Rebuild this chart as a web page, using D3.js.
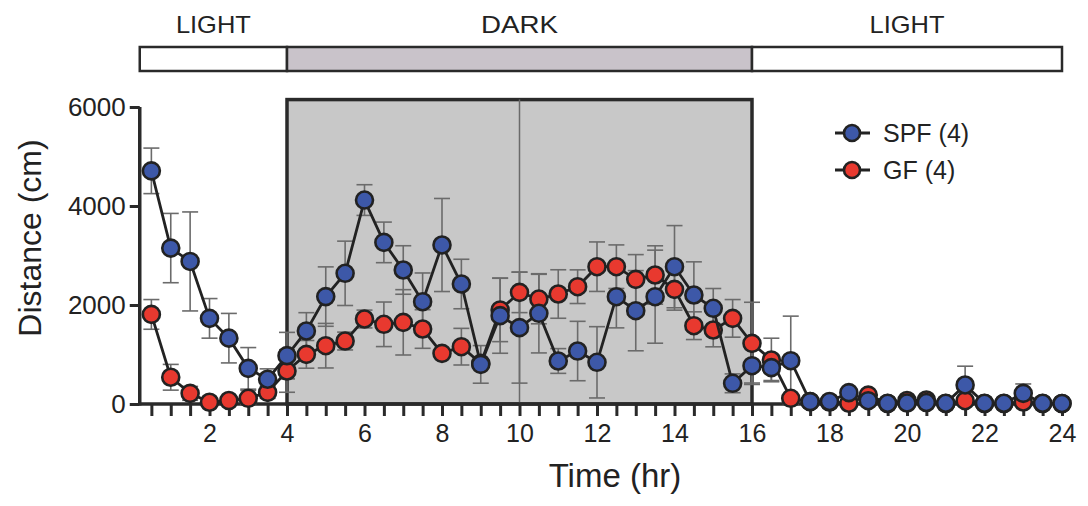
<!DOCTYPE html>
<html><head><meta charset="utf-8">
<script src="https://cdn.jsdelivr.net/npm/d3@7"></script>
<style>body{margin:0;background:#fff}svg{display:block}text{font-family:"Liberation Sans",Arial,sans-serif;fill:#222}</style>
</head><body><svg id="c" width="1088" height="506"></svg>
<script>
const hours = d3.range(1,49).map(i=>i*0.5);
const spfMean = [4710,3150,2880,1730,1330,720,500,977,1475,2170,2640,4120,3265,2707,2067,3212,2424,800,1785,1542,1832,869,1070,842,2168,1885,2168,2774,2202,1933,418,774,734,875,47,50,229,67,15,20,30,15,384,15,15,215,15,10];
const spfErr  = [460,700,1000,400,500,420,210,470,370,600,650,310,410,490,580,940,500,380,760,1120,800,250,600,720,630,810,940,830,670,400,190,350,260,900,0,0,80,0,0,0,0,0,380,0,0,190,0,0];
const gfMean  = [1810,540,215,35,70,115,235,667,1003,1178,1272,1717,1610,1650,1515,1023,1158,820,1900,2256,2120,2222,2370,2774,2774,2518,2606,2316,1582,1495,1730,1225,889,115,50,40,15,180,10,70,80,10,67,10,10,40,10,10];
const gfErr   = [300,260,140,0,0,160,120,430,280,450,180,180,450,660,390,0,370,0,640,410,500,490,340,500,440,500,590,420,280,340,380,830,440,0,0,0,0,0,0,0,0,0,0,0,0,0,0,0];
const xTickLabels = [2,4,6,8,10,12,14,16,18,20,22,24];
const yTickValues = [0,2000,4000,6000];
const phases = [{label:"LIGHT",start:0.2,end:4},{label:"DARK",start:4,end:16},{label:"LIGHT",start:16,end:24}];
const seriesNames = ["SPF (4)","GF (4)"];
const colors = {spf:"#3d58a8", gf:"#e8392f"};

const svg = d3.select("#c");
const x = d3.scaleLinear().domain([0.2,24]).range([139.75,1062]);
const y = d3.scaleLinear().domain([0,6000]).range([404,107]);

// top phase bar
const bar = svg.append("g");
phases.forEach(p=>{
  bar.append("rect").attr("x",x(p.start)).attr("y",47).attr("width",x(p.end)-x(p.start)).attr("height",24)
    .attr("fill",p.label==="DARK"?"#c9c3ca":"#fff").attr("stroke","#2a2a2a").attr("stroke-width",2.5);
  bar.append("text").attr("x",(x(p.start)+x(p.end))/2).attr("y",33).attr("text-anchor","middle")
    .attr("font-size",24).attr("textLength",p.label==="DARK"?77:75).attr("lengthAdjust","spacingAndGlyphs").text(p.label);
});

// dark box
svg.append("rect").attr("x",x(4)).attr("y",y(6150)).attr("width",x(16)-x(4)).attr("height",y(0)-y(6150))
  .attr("fill","#c8c8c8").attr("stroke","#2a2a2a").attr("stroke-width",3.5);
svg.append("line").attr("x1",x(10)).attr("x2",x(10)).attr("y1",y(6150)).attr("y2",y(0)).attr("stroke","#6a6a6a").attr("stroke-width",1.5);

// axes
const xAxis = d3.axisBottom(x).tickValues(hours).tickSize(12).tickPadding(8)
  .tickFormat(d=> xTickLabels.includes(d)? String(d):"");
const gx = svg.append("g").attr("transform",`translate(0,${y(0)})`).call(xAxis);
gx.select(".domain").attr("stroke","#2a2a2a").attr("stroke-width",3.5).attr("d",`M${x(0.2)},0H${x(24)+1.5}`);
gx.selectAll(".tick line").attr("stroke","#2a2a2a").attr("stroke-width",3);
gx.selectAll(".tick text").attr("font-size",25).attr("fill","#222");

const yAxis = d3.axisLeft(y).tickValues(yTickValues).tickSize(10).tickPadding(4).tickFormat(d3.format("d"));
const gy = svg.append("g").attr("transform",`translate(${x(0.2)},0)`).call(yAxis);
gy.select(".domain").attr("stroke","#2a2a2a").attr("stroke-width",3.5).attr("d",`M0,${y(6000)}V${y(0)+1.5}`);
gy.selectAll(".tick line").attr("stroke","#2a2a2a").attr("stroke-width",3);
gy.selectAll(".tick text").attr("font-size",26).attr("fill","#222");

svg.append("text").attr("transform","translate(41,238) rotate(-90)").attr("text-anchor","middle").attr("font-size",32).text("Distance (cm)");
svg.append("text").attr("x",615).attr("y",487).attr("text-anchor","middle").attr("font-size",33).text("Time (hr)");

const series = [
  {name:seriesNames[1], mean:gfMean, err:gfErr, color:colors.gf},
  {name:seriesNames[0], mean:spfMean, err:spfErr, color:colors.spf}
];
// error bars
series.forEach(s=>{
  const g = svg.append("g").attr("stroke","#6b6b6b").attr("stroke-width",1.6);
  hours.forEach((h,i)=>{
    const e = s.err[i]; if(!e) return;
    const top = y(s.mean[i]+e), bot = y(Math.max(0,s.mean[i]-e));
    g.append("line").attr("x1",x(h)).attr("x2",x(h)).attr("y1",top).attr("y2",bot);
    g.append("line").attr("x1",x(h)-8).attr("x2",x(h)+8).attr("y1",top).attr("y2",top);
    g.append("line").attr("x1",x(h)-8).attr("x2",x(h)+8).attr("y1",bot).attr("y2",bot);
  });
});
const line = d3.line().x((d,i)=>x(hours[i])).y(d=>y(d));
series.forEach(s=>{
  svg.append("path").attr("d",line(s.mean)).attr("fill","none").attr("stroke","#222").attr("stroke-width",2.8);
  svg.append("g").selectAll("circle").data(s.mean).join("circle")
    .attr("cx",(d,i)=>x(hours[i])).attr("cy",d=>y(d)).attr("r",8.5)
    .attr("fill",s.color).attr("stroke","#222").attr("stroke-width",2.6);
});

// legend
const leg = svg.append("g");
[[seriesNames[0],colors.spf,133],[seriesNames[1],colors.gf,170]].forEach(([n,c,yy])=>{
  leg.append("line").attr("x1",835).attr("x2",870).attr("y1",yy).attr("y2",yy).attr("stroke","#222").attr("stroke-width",2.8);
  leg.append("circle").attr("cx",852).attr("cy",yy).attr("r",8).attr("fill",c).attr("stroke","#222").attr("stroke-width",2.6);
  leg.append("text").attr("x",883).attr("y",yy+9).attr("font-size",25).text(n);
});
</script></body></html>
